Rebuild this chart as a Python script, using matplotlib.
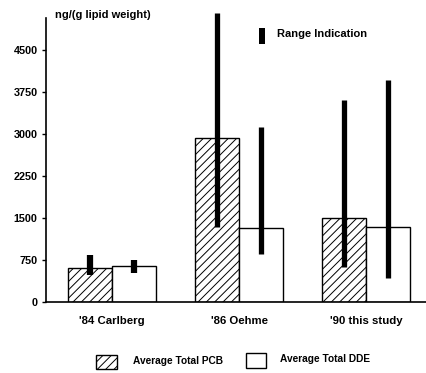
import matplotlib
matplotlib.use("Agg")
import matplotlib.pyplot as plt
from matplotlib.patches import Rectangle
import numpy as np

categories = ["'84 Carlberg", "'86 Oehme", "'90 this study"]
pcb_avg = [610, 2930, 1500]
dde_avg = [650, 1320, 1340]
pcb_lo = [480, 1340, 625]
pcb_hi = [840, 5160, 3600]
dde_lo = [520, 860, 430]
dde_hi = [750, 3130, 3960]
yticks = [0, 750, 1500, 2250, 3000, 3750, 4500]

plt.rcParams['font.family'] = ['Liberation Sans', 'DejaVu Sans']
plt.rcParams['font.weight'] = 'bold'
plt.rcParams['hatch.linewidth'] = 0.7

W, H = 427, 373
fig = plt.figure(figsize=(W / 100, H / 100), dpi=100)
ax = fig.add_axes([46 / W, 1 - 302 / H, 1 - 46 / W, (302 - 18) / H])

x = np.arange(len(categories))
bw = 0.345

ax.bar(x - bw / 2, pcb_avg, bw, color='white', edgecolor='black', hatch='////', linewidth=1.0)
ax.bar(x + bw / 2, dde_avg, bw, color='white', edgecolor='black', linewidth=1.0)

# range bars
lw = [4.5, 3.8, 3.8]
for i in range(len(categories)):
    ax.plot([x[i] - bw / 2] * 2, [pcb_lo[i], pcb_hi[i]], color='black', lw=lw[i],
            solid_capstyle='butt', clip_on=False)
    ax.plot([x[i] + bw / 2] * 2, [dde_lo[i], dde_hi[i]], color='black', lw=lw[i],
            solid_capstyle='butt', clip_on=False)

ax.set_xlim(-0.52, 2.48)
ax.set_ylim(0, 5070)
ax.set_yticks(yticks)
ax.set_yticklabels([str(v) for v in yticks], fontsize=7.8)
ax.set_xticks(x)
ax.set_xticklabels(categories, fontsize=8.2)
ax.tick_params(axis='x', length=0, pad=10)
ax.tick_params(axis='y', length=3, width=1, pad=3)
for s in ['top', 'right']:
    ax.spines[s].set_visible(False)
ax.spines['left'].set_linewidth(1.2)
ax.spines['bottom'].set_linewidth(1.2)

# y unit label
fig.text(55 / W, 1 - 15 / H, 'ng/(g lipid weight)', fontsize=8, va='center', ha='left')

# range legend
fig.add_artist(Rectangle((259 / W, 1 - 44 / H), 6 / W, 16 / H, transform=fig.transFigure,
                         facecolor='black', edgecolor='none'))
fig.text(277 / W, 1 - 34 / H, 'Range Indication', fontsize=8, va='center', ha='left')

# bottom legend
fig.add_artist(Rectangle((96 / W, 1 - 369 / H), 21 / W, 14 / H, transform=fig.transFigure,
                         facecolor='white', edgecolor='black', hatch='////', linewidth=1.0))
fig.text(133 / W, 1 - 361 / H, 'Average Total PCB', fontsize=7.3, va='center', ha='left')
fig.add_artist(Rectangle((246 / W, 1 - 368 / H), 20 / W, 15 / H, transform=fig.transFigure,
                         facecolor='white', edgecolor='black', linewidth=1.0))
fig.text(280 / W, 1 - 359 / H, 'Average Total DDE', fontsize=7.3, va='center', ha='left')

fig.savefig('out.png', dpi=100)
